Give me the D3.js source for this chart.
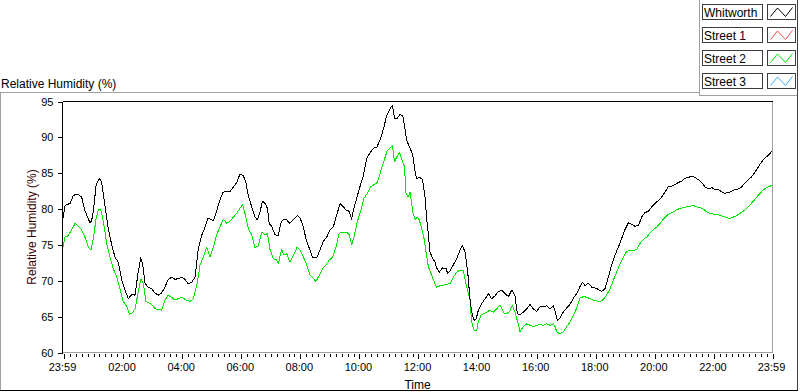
<!DOCTYPE html>
<html>
<head>
<meta charset="utf-8">
<script src="https://cdn.jsdelivr.net/npm/d3@7"></script>
<style>
  html, body { margin: 0; padding: 0; background: #fff; }
  svg { display: block; font-family: "Liberation Sans", Arial, sans-serif; }
</style>
</head>
<body>
<svg id="chart" width="800" height="392"></svg>
<script>
// ---------------- DATA ----------------
const seriesNames = ["Whitworth", "Street 1", "Street 2", "Street 3"];
const startClock = "23:59";

const whitworthHours = [0.00,0.07,0.24,0.35,0.41,0.52,0.63,0.74,0.91,0.97,1.03,1.12,1.23,1.31,1.42,1.53,1.65,1.76,1.87,1.99,2.10,2.21,2.33,2.44,2.53,2.63,2.70,2.78,2.89,3.00,3.11,3.23,3.34,3.45,3.56,3.68,3.79,3.90,4.02,4.13,4.24,4.36,4.47,4.53,4.58,4.70,4.81,4.90,4.98,5.09,5.18,5.29,5.41,5.54,5.65,5.77,5.88,5.99,6.10,6.19,6.27,6.39,6.50,6.58,6.67,6.75,6.84,6.92,6.98,7.06,7.18,7.29,7.37,7.46,7.57,7.68,7.80,7.93,8.02,8.14,8.23,8.34,8.45,8.59,8.70,8.81,8.93,9.04,9.15,9.26,9.38,9.49,9.60,9.69,9.77,9.83,9.94,10.05,10.17,10.28,10.39,10.51,10.62,10.73,10.85,10.96,11.07,11.15,11.22,11.30,11.41,11.50,11.56,11.63,11.75,11.84,11.92,11.97,12.08,12.17,12.25,12.31,12.37,12.42,12.51,12.59,12.65,12.74,12.85,12.97,13.02,13.10,13.21,13.33,13.44,13.52,13.61,13.70,13.78,13.83,13.91,13.98,14.06,14.17,14.29,14.40,14.51,14.62,14.74,14.85,14.96,15.08,15.19,15.30,15.38,15.47,15.58,15.70,15.81,15.92,16.03,16.15,16.26,16.37,16.49,16.60,16.66,16.73,16.82,16.94,17.05,17.16,17.28,17.39,17.50,17.59,17.67,17.78,17.90,18.01,18.12,18.23,18.35,18.46,18.57,18.69,18.80,18.91,19.02,19.14,19.25,19.36,19.48,19.59,19.70,19.82,19.93,20.04,20.16,20.27,20.38,20.49,20.61,20.72,20.83,20.94,21.06,21.17,21.28,21.39,21.51,21.62,21.73,21.85,21.96,22.07,22.19,22.30,22.41,22.52,22.64,22.75,22.86,22.98,23.09,23.20,23.31,23.43,23.54,23.65,23.76,23.88,24.00];
const whitworthRH = [78.7,80.5,80.8,81.9,82.0,82.0,81.7,79.8,78.1,78.4,79.8,83.3,84.3,83.7,80.5,77.3,75.0,73.3,72.6,70.1,68.7,67.5,68.1,68.0,70.8,73.2,72.2,69.6,69.1,68.9,68.3,68.0,68.3,69.1,70.2,70.5,70.2,70.3,70.5,70.2,69.6,69.8,70.5,72.6,74.5,76.4,77.5,78.7,78.6,78.4,79.4,81.0,82.3,82.5,82.4,83.1,83.7,84.9,84.7,83.7,81.9,80.3,78.9,78.5,79.6,81.1,80.8,80.1,78.0,77.6,76.4,76.3,78.0,78.6,78.5,78.0,78.5,79.1,78.8,77.5,75.7,74.5,73.2,73.2,74.3,75.5,76.1,77.1,77.5,79.1,80.8,80.3,79.8,79.7,78.6,79.8,81.5,83.1,84.7,87.1,87.8,88.5,88.6,89.6,91.2,93.1,94.0,94.5,92.7,92.6,93.2,93.0,91.7,89.6,88.5,87.5,85.2,84.3,84.4,84.1,81.9,78.7,76.4,74.0,73.2,72.6,71.8,71.2,71.8,71.7,71.0,71.4,72.2,73.1,74.3,74.9,74.0,71.2,67.3,65.7,64.5,64.6,65.9,66.8,67.5,68.2,67.5,67.9,68.5,68.7,68.2,67.8,68.7,67.9,65.4,65.3,65.6,66.1,66.7,66.1,65.7,66.4,66.4,66.5,66.1,66.5,65.7,64.5,64.8,65.7,66.2,66.7,67.6,68.2,69.2,69.8,69.3,69.7,69.1,69.0,68.8,68.5,68.9,70.5,72.2,73.6,74.7,75.9,77.1,78.1,77.9,77.6,77.7,78.9,79.5,79.7,80.3,80.8,81.2,81.7,82.4,83.1,83.2,83.4,83.7,83.9,84.3,84.4,84.6,84.4,84.1,83.7,83.1,82.8,83.0,82.7,82.7,82.4,82.2,82.3,82.5,82.7,82.8,83.1,83.7,84.1,84.5,85.2,85.9,86.6,87.1,87.5,88.1];

const street2Hours = [0.00,0.07,0.18,0.29,0.41,0.52,0.63,0.74,0.86,0.95,1.03,1.12,1.20,1.28,1.37,1.48,1.59,1.70,1.82,1.93,2.04,2.16,2.25,2.36,2.44,2.55,2.64,2.72,2.81,2.92,3.00,3.11,3.23,3.34,3.45,3.56,3.68,3.79,3.90,4.02,4.13,4.30,4.41,4.53,4.64,4.75,4.86,4.98,5.09,5.20,5.31,5.43,5.54,5.65,5.77,5.88,5.99,6.08,6.16,6.27,6.39,6.50,6.61,6.73,6.84,6.92,7.01,7.12,7.23,7.29,7.40,7.48,7.57,7.68,7.80,7.93,8.02,8.14,8.25,8.36,8.48,8.56,8.68,8.79,8.90,9.01,9.13,9.24,9.35,9.47,9.60,9.69,9.77,9.85,9.96,10.08,10.19,10.30,10.42,10.53,10.64,10.75,10.87,10.98,11.07,11.15,11.22,11.30,11.39,11.47,11.56,11.61,11.69,11.75,11.84,11.92,11.99,12.06,12.14,12.22,12.29,12.37,12.48,12.57,12.65,12.76,12.87,12.99,13.10,13.21,13.33,13.44,13.55,13.63,13.78,13.83,13.92,14.00,14.06,14.15,14.23,14.34,14.45,14.57,14.68,14.79,14.85,14.94,15.02,15.13,15.21,15.30,15.39,15.47,15.58,15.70,15.81,15.92,16.03,16.15,16.26,16.37,16.49,16.60,16.66,16.71,16.82,16.94,17.05,17.16,17.28,17.39,17.50,17.62,17.73,17.84,17.95,18.07,18.18,18.29,18.40,18.52,18.63,18.74,18.86,18.97,19.08,19.19,19.31,19.42,19.53,19.65,19.76,19.87,19.98,20.10,20.21,20.32,20.44,20.55,20.66,20.77,20.89,21.00,21.11,21.23,21.34,21.45,21.57,21.68,21.79,21.90,22.02,22.13,22.24,22.36,22.47,22.58,22.70,22.81,22.92,23.03,23.15,23.26,23.37,23.49,23.60,23.71,23.83,23.94,24.00];
const street2RH = [74.7,76.1,76.3,77.1,78.0,77.6,77.1,76.1,74.7,74.3,75.9,78.7,80.0,79.9,78.2,75.2,73.3,71.7,70.5,68.9,67.1,66.4,65.3,65.6,66.1,68.5,70.3,69.6,67.1,66.9,66.7,66.1,66.0,65.9,67.3,68.0,67.7,67.3,67.5,67.7,67.4,67.1,67.5,69.4,72.2,73.3,74.7,73.3,74.7,76.4,77.5,78.6,78.0,78.3,78.9,79.4,80.1,80.6,79.4,77.3,76.4,74.6,74.9,76.8,76.4,76.6,74.3,73.1,72.9,72.4,74.4,73.6,73.8,72.6,73.6,74.7,74.3,73.3,72.2,70.8,70.3,69.9,70.8,71.7,72.2,72.9,73.3,74.7,76.6,76.8,76.8,76.4,75.0,76.1,78.2,79.8,81.5,82.2,83.1,83.4,83.7,85.2,86.8,88.2,88.5,88.9,86.6,87.3,87.9,86.9,85.9,82.2,81.7,82.4,79.6,78.5,78.9,78.5,77.3,75.9,74.0,71.9,70.8,69.8,69.1,69.3,69.4,69.5,69.6,70.5,71.2,71.5,71.4,69.8,67.3,64.3,63.0,63.0,64.3,65.2,65.4,65.6,65.9,65.6,66.1,66.6,66.1,65.4,65.4,65.8,66.6,65.6,64.3,62.9,63.6,64.0,63.8,63.6,63.8,63.9,63.8,64.0,63.8,64.0,63.6,62.9,62.6,62.9,63.6,64.2,65.2,66.2,67.6,67.8,67.7,67.5,67.3,67.2,67.1,67.4,68.0,68.9,70.1,71.2,72.4,73.3,74.1,74.2,74.2,74.4,75.2,75.8,76.1,76.7,77.1,77.5,78.0,78.6,79.1,79.4,79.6,79.9,80.1,80.2,80.3,80.4,80.5,80.3,80.2,80.0,79.6,79.4,79.3,79.3,79.1,79.0,78.8,78.7,78.9,79.1,79.4,79.7,80.1,80.6,81.1,81.7,82.2,82.7,83.0,83.2,83.3];

const yTicks = [60, 65, 70, 75, 80, 85, 90, 95];
const xTickLabels = ["23:59","02:00","04:00","06:00","08:00","10:00","12:00","14:00","16:00","18:00","20:00","22:00","23:59"];

// ---------------- STYLE ----------------
const colors = { "Whitworth": "#000000", "Street 1": "#ff4a4a", "Street 2": "#00e600", "Street 3": "#38b0ff" };
const gridGray = "#a0a0a0";

// ---------------- SETUP ----------------
const svg = d3.select("#chart");
const plot = { left: 63, right: 772, top: 101.5, bottom: 352.5 };

const [sh, sm] = startClock.split(":").map(Number);
const startDate = new Date(2000, 0, 1, sh, sm);
const toDate = h => new Date(startDate.getTime() + h * 3600e3);

const x = d3.scaleTime().domain([toDate(0), toDate(24)]).range([plot.left, plot.right]);
const y = d3.scaleLinear().domain([60, 95]).range([plot.bottom, plot.top]);

const tickDates = xTickLabels.map((lab, i) => {
  const [hh, mm] = lab.split(":").map(Number);
  return i === 0 ? new Date(2000, 0, 1, hh, mm) : new Date(2000, 0, 2, hh, mm);
});

// ---------------- OUTER FRAME ----------------
const frame = svg.append("g").attr("shape-rendering", "crispEdges");
function hline(x1, x2, yy, c) { frame.append("line").attr("x1", x1).attr("x2", x2).attr("y1", yy).attr("y2", yy).attr("stroke", c); }
function vline(xx, y1, y2, c) { frame.append("line").attr("x1", xx).attr("x2", xx).attr("y1", y1).attr("y2", y2).attr("stroke", c); }
hline(0, 699, 92.5, gridGray);
vline(0.5, 92, 391, gridGray);
vline(699.5, 0, 96, gridGray);
hline(699, 797, 95.5, gridGray);
vline(797.5, 0, 391, "#404040");
hline(0, 798, 390.5, "#000");

svg.append("text").attr("x", 1).attr("y", 87.5)
  .attr("font-size", 12).attr("fill", "#000").text("Relative Humidity (%)");

// ---------------- PLOT FRAME ----------------
const pf = svg.append("g").attr("shape-rendering", "crispEdges");
pf.append("rect").attr("x", plot.left).attr("y", plot.top).attr("width", plot.right - plot.left).attr("height", plot.bottom - plot.top).attr("fill", "#fff");
pf.append("line").attr("x1", plot.left - 0.5).attr("x2", plot.right + 0.5).attr("y1", plot.bottom).attr("y2", plot.bottom).attr("stroke", gridGray);
pf.append("line").attr("x1", plot.right + 0.5).attr("x2", plot.right + 0.5).attr("y1", plot.top).attr("y2", plot.bottom + 0.5).attr("stroke", gridGray);
pf.append("line").attr("x1", plot.left - 0.5).attr("x2", plot.right + 0.5).attr("y1", plot.top).attr("y2", plot.top).attr("stroke", "#000");
pf.append("line").attr("x1", plot.left - 0.5).attr("x2", plot.left - 0.5).attr("y1", plot.top).attr("y2", plot.bottom + 0.5).attr("stroke", "#000");

// ---------------- Y AXIS ----------------
const yAxis = svg.append("g").attr("transform", `translate(${plot.left - 0.5},0)`)
  .attr("shape-rendering", "crispEdges")
  .call(d3.axisLeft(y).tickValues(yTicks).tickSize(5).tickPadding(4).tickFormat(d3.format("d")));
yAxis.select(".domain").remove();
yAxis.selectAll(".tick line").attr("stroke", "#000");
yAxis.selectAll("text").attr("font-size", 11).attr("font-family", "Liberation Sans, Arial, sans-serif").attr("fill", "#000");

svg.append("text")
  .attr("transform", `translate(35.5,${(plot.top + plot.bottom) / 2}) rotate(-90)`)
  .attr("text-anchor", "middle").attr("font-size", 12).attr("fill", "#3a0000")
  .text("Relative Humidity (%)");

// ---------------- X AXIS ----------------
const xAxisY = plot.bottom + 1.5;
const minorDates = d3.timeMinute.every(12).range(toDate(0), toDate(24))
  .filter(d => tickDates.every(t => Math.abs(t - d) > 6 * 60e3));
const xMinor = svg.append("g").attr("transform", `translate(0.5,${xAxisY})`)
  .attr("shape-rendering", "crispEdges")
  .call(d3.axisBottom(x).tickValues(minorDates).tickSize(3).tickFormat(""));
xMinor.select(".domain").remove();
xMinor.selectAll(".tick line").attr("stroke", "#000");

const xAxis = svg.append("g").attr("transform", `translate(0.5,${xAxisY})`)
  .attr("shape-rendering", "crispEdges")
  .call(d3.axisBottom(x).tickValues(tickDates).tickSize(5)
    .tickFormat((d, i) => xTickLabels[i]));
xAxis.select(".domain").remove();
xAxis.selectAll(".tick line").attr("stroke", "#000");
xAxis.selectAll("text").attr("font-size", 11).attr("font-family", "Liberation Sans, Arial, sans-serif")
  .attr("fill", "#000").attr("y", 17).attr("dy", 0).attr("dx", -1.5);

svg.append("text").attr("x", (plot.left + plot.right) / 2).attr("y", 388.5)
  .attr("text-anchor", "middle").attr("font-size", 12).attr("fill", "#000").text("Time");

// ---------------- LINES ----------------
const line = d3.line().x(d => x(d.date)).y(d => y(d.v));
const mk = (hrs, vals) => hrs.map((h, i) => ({ date: toDate(h), v: vals[i] }));
const series = [
  { name: "Street 2", data: mk(street2Hours, street2RH) },
  { name: "Whitworth", data: mk(whitworthHours, whitworthRH) }
];
svg.append("g").selectAll("path").data(series).join("path")
  .attr("d", d => line(d.data))
  .attr("fill", "none")
  .attr("stroke", d => colors[d.name])
  .attr("stroke-width", 1)
  .attr("shape-rendering", "crispEdges")
  .attr("stroke-linejoin", "round");

// ---------------- LEGEND ----------------
const lg = svg.append("g");
seriesNames.forEach((name, i) => {
  const top = 4.5 + i * 23;
  const row = lg.append("g");
  row.append("rect").attr("x", 702.5).attr("y", top).attr("width", 60).attr("height", 15)
    .attr("fill", "#fff").attr("stroke", "#3c3c3c").attr("shape-rendering", "crispEdges");
  row.append("text").attr("x", 704).attr("y", top + 12.2).attr("font-size", 12).attr("fill", "#000").text(name);
  const sx = 767.5;
  row.append("rect").attr("x", sx).attr("y", top).attr("width", 28).attr("height", 15)
    .attr("fill", "#fff").attr("stroke", "#3c3c3c").attr("shape-rendering", "crispEdges");
  const pts = [[sx + 3, top + 12], [sx + 10, top + 3.5], [sx + 18, top + 12], [sx + 25, top + 3]];
  row.append("path").attr("d", d3.line()(pts)).attr("fill", "none").attr("stroke", colors[name]).attr("stroke-width", 1);
});
</script>
</body>
</html>
